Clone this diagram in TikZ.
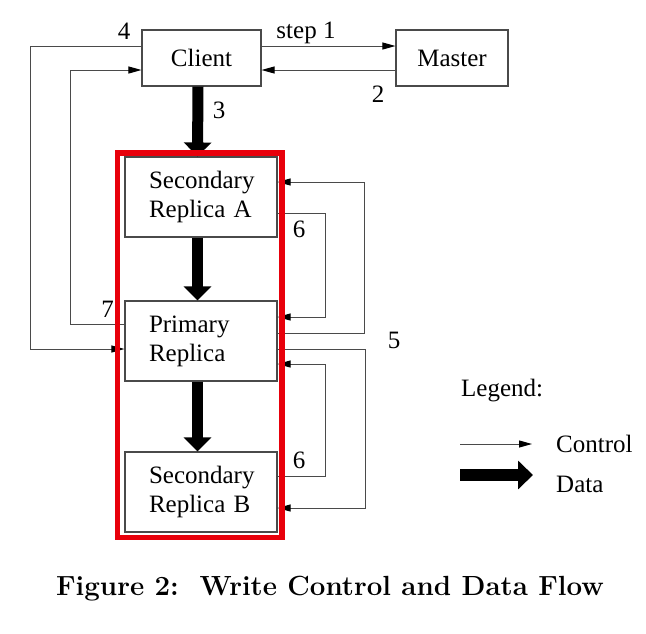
\documentclass[tikz,border=0pt]{standalone}
\usepackage{fontspec}
\newfontfamily\tnr{Liberation Serif}
\usetikzlibrary{arrows.meta}
\definecolor{linegray}{HTML}{4A4A4A}
\definecolor{boxred}{HTML}{E8000B}
\tikzset{
  box/.style={draw=linegray, line width=1.1pt, inner sep=0pt, font=\tnr\fontsize{25}{29}\selectfont},
  rbox/.style={box, minimum width=152pt, minimum height=80pt, align=left, text width=104pt, inner xsep=24pt},
  ctrl/.style={draw=linegray, line width=1pt, -{Triangle[length=13pt,width=7pt,color=black]}},
  plain/.style={draw=linegray, line width=1pt},
  dataflow/.style={draw=black, line width=11pt, -{Triangle[length=14pt,width=27pt]}},
  lbl/.style={font=\tnr\fontsize{25}{29}\selectfont, inner sep=0pt},
}
\begin{document}
\begin{tikzpicture}[x=1pt,y=-1pt]
\useasboundingbox[fill=white] (0,0) rectangle (646,633);

% nodes
\node[box, minimum width=119pt, minimum height=56pt] (client) at (201.5,58) {Client};
\node[box, minimum width=112pt, minimum height=56pt] (master) at (452,58) {Master};
\node[rbox] (secA) at (201,197) {Secondary\\Replica A};
\node[rbox] (prim) at (201,341) {Primary\\Replica};
\node[rbox] (secB) at (201,492) {Secondary\\Replica B};

% client <-> master
\draw[ctrl] (client.east |- 0,46) -- (master.west |- 0,46);
\draw[ctrl] (master.west |- 0,70) -- (client.east |- 0,70);

% 4: client -> primary (outer left loop)
\coordinate (c4a) at (30,46);
\coordinate (c4b) at (30,349);
\draw[ctrl] (client.west |- c4a) -- (c4a) -- (c4b) -- (prim.west |- c4b);

% 7: primary -> client (inner left loop)
\coordinate (c7a) at (70,324);
\coordinate (c7b) at (70,70);
\draw[ctrl] (prim.west |- c7a) -- (c7a) -- (c7b) -- (client.west |- c7b);

% 5: primary -> secondaries
\coordinate (c5a) at (364,333);
\coordinate (c5b) at (364,182);
\draw[ctrl] (prim.east |- c5a) -- (c5a) -- (c5b) -- (secA.east |- c5b);
\coordinate (c5c) at (365,349);
\coordinate (c5d) at (365,508);
\draw[ctrl] (prim.east |- c5c) -- (c5c) -- (c5d) -- (secB.east |- c5d);

% 6: secondaries -> primary
\coordinate (c6a) at (325,213);
\coordinate (c6b) at (325,317);
\draw[ctrl] (secA.east |- c6a) -- (c6a) -- (c6b) -- (prim.east |- c6b);
\coordinate (c6c) at (325,476);
\coordinate (c6d) at (325,364);
\draw[ctrl] (secB.east |- c6c) -- (c6c) -- (c6d) -- (prim.east |- c6d);

% data flow
\draw[dataflow] ([xshift=-3.5pt]client.south) -- ([xshift=-3.5pt]secA.north);
\draw[dataflow] ([xshift=-3.5pt]secA.south) -- ([xshift=-3.5pt]prim.north);
\draw[dataflow] ([xshift=-3.5pt]prim.south) -- ([xshift=-3.5pt]secB.north);

% red frame
\node[draw=boxred, line width=5.5pt, minimum width=164.5pt, minimum height=384.5pt, inner sep=0pt] (frame) at (199.75,345.25) {};

% labels
\node[lbl, anchor=base] (lstep) at (306,38) {step 1};
\node[lbl] (l2) at (378,94) {2};
\node[lbl] (l4) at (124,31) {4};
\node[lbl] (l3) at (219,110) {3};
\node[lbl] (l6a) at (299,229.5) {6};
\node[lbl] (l7) at (107.5,309.5) {7};
\node[lbl] (l5) at (394,340.5) {5};
\node[lbl] (l6b) at (299,460) {6};

% legend
\node[lbl, anchor=base west] (legend) at (461,396) {Legend:};
\coordinate (lc1) at (460,444);
\coordinate (lc2) at (532,444);
\draw[ctrl] (lc1) -- (lc2);
\node[lbl, anchor=base west] (lctrl) at (556,452) {Control};
\coordinate (ld1) at (460,475);
\coordinate (ld2) at (533,475);
\draw[draw=black, line width=12pt, -{Triangle[length=15pt,width=28pt]}] (ld1) -- (ld2);
\node[lbl, anchor=base west] (ldata) at (556,492) {Data};

% caption
\node[anchor=base, inner sep=0pt, font=\bfseries\fontsize{27.7}{32}\selectfont] (caption) at (330,595) {Figure 2:\ \ Write Control and Data Flow};
\end{tikzpicture}
\end{document}
